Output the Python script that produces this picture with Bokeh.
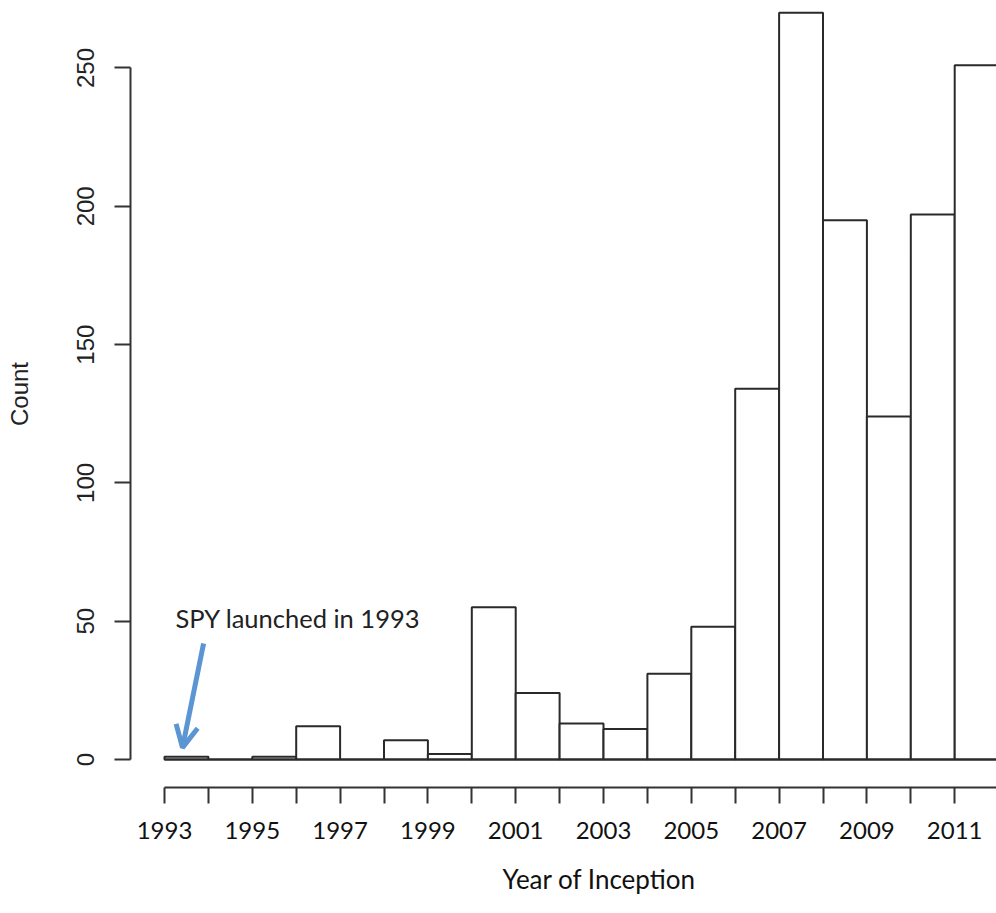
from bokeh.plotting import figure
from bokeh.models import Range1d, FixedTicker, Arrow, OpenHead, ColumnDataSource, LinearAxis, Title
from bokeh.core.properties import value
from bokeh.embed import file_html
from bokeh.resources import INLINE

# ---- data ----
years = [1993, 1994, 1995, 1996, 1997, 1998, 1999, 2000, 2001, 2002,
         2003, 2004, 2005, 2006, 2007, 2008, 2009, 2010, 2011]
counts = [1, 0, 1, 12, 0, 7, 2, 55, 24, 13,
          11, 31, 48, 134, 270, 195, 124, 197, 251]
x_tick_labels = [1993, 1995, 1997, 1999, 2001, 2003, 2005, 2007, 2009, 2011]
x_minor_ticks = [1994, 1996, 1998, 2000, 2002, 2004, 2006, 2008, 2010, 2012]
y_ticks = [0, 50, 100, 150, 200, 250]

annot_text = "SPY launched in 1993"
annot_pos = (1993.25, 51.3)
arrow_start = (1993.89, 41.9)
arrow_end = (1993.41, 4.3)
xlabel_text = "Year of Inception"

src = ColumnDataSource(dict(
    left=years,
    right=[y + 1 for y in years],
    top=counts,
    bottom=[0] * len(years),
))

p = figure(width=996, height=913, output_backend="svg", toolbar_location=None,
           x_range=Range1d(1992.2255, 2011.952), y_range=Range1d(-10.12, 274.4),
           x_axis_location=None, y_axis_location=None,
           min_border_left=130, min_border_right=0, min_border_top=0,
           min_border_bottom=126)
p.outline_line_color = None
p.grid.visible = False
p.background_fill_color = "white"
p.border_fill_color = "white"

p.quad(left="left", right="right", top="top", bottom="bottom", source=src,
       fill_color="white", line_color="#2a2a2a", line_width=2)
# baseline of every bar (visible for empty bins)
p.segment(x0="left", x1="right", y0="bottom", y1="bottom", source=src,
          line_color="#2a2a2a", line_width=2)

# y axis (R style)
yax = LinearAxis(ticker=FixedTicker(ticks=y_ticks), bounds=(0, 250),
                 axis_label="Count")
yax.axis_line_color = "#333333"
yax.axis_line_width = 2
yax.major_tick_line_color = "#333333"
yax.major_tick_line_width = 2
yax.major_tick_out = 16
yax.major_tick_in = 0
yax.minor_tick_line_color = None
yax.major_label_orientation = "vertical"
yax.major_label_standoff = 20
yax.major_label_text_font = "Liberation Sans"
yax.major_label_text_font_size = "24px"
yax.major_label_text_color = "#222222"
yax.axis_label_text_font = "Liberation Sans"
yax.axis_label_text_font_size = "24px"
yax.axis_label_text_font_style = "normal"
yax.axis_label_text_color = "#222222"
yax.axis_label_standoff = 42
p.add_layout(yax, "left")

# x axis
xax = LinearAxis(ticker=FixedTicker(ticks=x_tick_labels, minor_ticks=x_minor_ticks),
                 bounds=(1993, 2012))
xax.axis_line_color = "#333333"
xax.axis_line_width = 2
xax.major_tick_line_color = "#333333"
xax.major_tick_line_width = 2
xax.major_tick_out = 16
xax.major_tick_in = 0
xax.minor_tick_line_color = "#333333"
xax.minor_tick_line_width = 2
xax.minor_tick_out = 16
xax.minor_tick_in = 0
xax.major_label_standoff = 18
xax.major_label_text_font = "Lato"
xax.major_label_text_font_size = "24px"
xax.major_label_text_color = "#111111"
p.add_layout(xax, "below")

p.add_layout(Title(text=xlabel_text, align="left", offset=372, standoff=38,
                   text_font="Lato", text_font_size="26px", text_color="#111111",
                   text_font_style="normal"), "below")

# annotation
p.text(x=[annot_pos[0]], y=[annot_pos[1]], text=[annot_text],
       text_font=value("Lato"), text_font_size="25.5px", text_color="#222222",
       text_baseline="middle", text_align="left")
p.add_layout(Arrow(x_start=arrow_start[0], y_start=arrow_start[1],
                   x_end=arrow_end[0], y_end=arrow_end[1],
                   line_color="#5b95d3", line_width=5,
                   end=OpenHead(size=22, line_color="#5b95d3", line_width=5)))

open("out.html", "w").write(file_html(p, INLINE))
